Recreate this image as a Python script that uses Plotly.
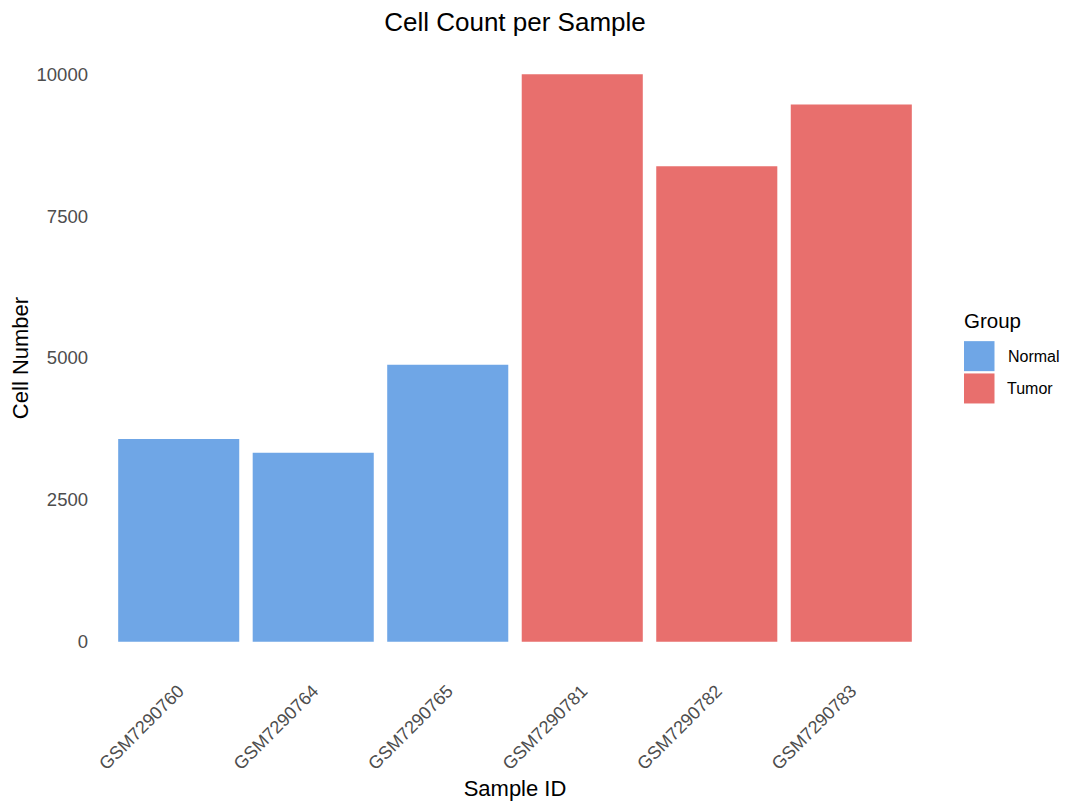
import plotly.graph_objects as go

samples = ["GSM7290760", "GSM7290764", "GSM7290765", "GSM7290781", "GSM7290782", "GSM7290783"]
cell_counts = [3570, 3330, 4880, 10000, 8380, 9470]
groups = ["Normal", "Normal", "Normal", "Tumor", "Tumor", "Tumor"]
group_names = ["Normal", "Tumor"]
group_colors = {"Normal": "#6FA6E6", "Tumor": "#E86F6D"}
y_ticks = [0, 2500, 5000, 7500, 10000]

OFF = 8  # page body margin
W, H = 1080 - OFF, 810 - OFF
# target plot area on screen: x 98..932, y 45.7..669.4
L = 98 - OFF
T = 46 - OFF
pw = 834
ph = 623.7
R = W - L - pw
B = H - T - ph

def px_x(x):
    return (x - OFF - L) / pw

def px_y(y):
    return (T + ph - (y - OFF)) / ph

FONT = "Liberation Sans, Arial, Helvetica, sans-serif"

fig = go.Figure()
fig.add_trace(go.Bar(
    x=samples,
    y=cell_counts,
    width=0.9,
    marker=dict(color=[group_colors[g] for g in groups], line=dict(width=0)),
    showlegend=False,
))

# custom legend (ggplot-style large keys)
shapes = []
annotations = []
annotations.append(dict(text="Group", x=px_x(962), y=px_y(320), xref="paper", yref="paper",
                        xanchor="left", yanchor="middle", showarrow=False,
                        font=dict(family=FONT, size=20.5, color="#000000")))
key_top = 341
for i, g in enumerate(group_names):
    y0 = key_top + i * 32.3
    shapes.append(dict(type="rect", xref="paper", yref="paper",
                       x0=px_x(964), x1=px_x(994.5), y0=px_y(y0 + 30), y1=px_y(y0),
                       fillcolor=group_colors[g], line=dict(width=0)))
    annotations.append(dict(text=g, x=px_x(1005.5), y=px_y(y0 + 15.5), xref="paper", yref="paper",
                            xanchor="left", yanchor="middle", showarrow=False,
                            font=dict(family=FONT, size=16, color="#000000")))

fig.update_layout(
    width=W, height=H,
    margin=dict(l=L, r=R, t=T, b=B, autoexpand=False),
    paper_bgcolor="white", plot_bgcolor="white",
    font=dict(family=FONT),
    title=dict(text="Cell Count per Sample", x=0.5, xref="paper", xanchor="center",
               y=1 - (21.5 - OFF) / H, yref="container", yanchor="middle", pad=dict(t=0, b=0),
               font=dict(family=FONT, size=26, color="#000000")),
    xaxis=dict(
        type="category", range=[-0.6, 5.6], showgrid=False, zeroline=False, showline=False,
        ticks="", tickangle=-45, tickfont=dict(family=FONT, size=18, color="#4D4D4D"),
        ticklabelstandoff=6,
        title=dict(text="Sample ID", font=dict(family=FONT, size=22, color="#000000"), standoff=7),
        automargin=False, fixedrange=True,
    ),
    yaxis=dict(
        range=[-500, 10500], tickvals=y_ticks, ticktext=[str(v) for v in y_ticks],
        showgrid=False, zeroline=False, showline=False, ticks="",
        tickfont=dict(family=FONT, size=18.5, color="#4D4D4D"), ticklabelstandoff=9,
        title=dict(text="Cell Number", font=dict(family=FONT, size=22, color="#000000"), standoff=8),
        automargin=False, fixedrange=True,
    ),
    shapes=shapes,
    annotations=annotations,
    showlegend=False,
    bargap=0.1,
)

fig.write_html("out.html")
